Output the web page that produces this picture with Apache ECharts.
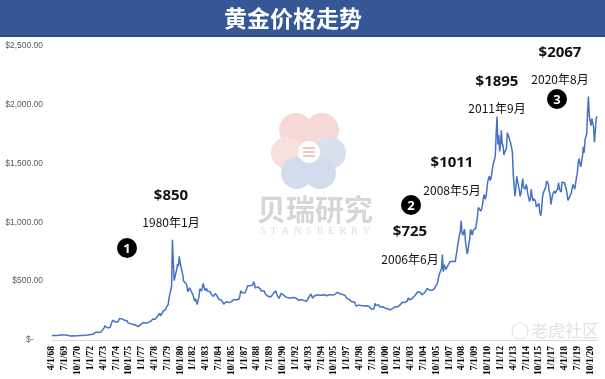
<!DOCTYPE html>
<html><head><meta charset="utf-8">
<script src="https://cdn.jsdelivr.net/npm/echarts@6/dist/echarts.min.js"></script>
<style>html,body{margin:0;padding:0;background:#fff;overflow:hidden}#c{width:605px;height:379px}</style>
</head><body><div id="c"></div>
<script>
// Monthly gold price (USD/oz), April 1968 - June 2021
const startYear = 1968;
const startMonth = 4;
const p1968 = [38, 40, 41, 39, 39, 40, 39, 40, 41];
const p1969 = [42, 42, 43, 43, 43, 41, 42, 41, 40, 40, 36, 35];
const p1970 = [35, 35, 35, 36, 36, 35, 35, 35, 36, 37, 37, 37];
const p1971 = [38, 39, 39, 39, 40, 40, 41, 42, 42, 42, 43, 43];
const p1972 = [46, 48, 48, 49, 54, 60, 65, 67, 65, 65, 63, 64];
const p1973 = [65, 74, 84, 90, 102, 120, 120, 107, 103, 100, 95, 106];
const p1974 = [129, 150, 168, 172, 163, 154, 143, 154, 151, 158, 181, 183];
const p1975 = [176, 180, 178, 170, 167, 164, 165, 163, 144, 143, 142, 139];
const p1976 = [131, 132, 132, 128, 126, 125, 117, 110, 114, 116, 130, 133];
const p1977 = [132, 136, 148, 149, 146, 141, 143, 145, 150, 158, 162, 161];
const p1978 = [173, 178, 184, 175, 177, 183, 188, 206, 212, 227, 206, 207];
const p1979 = [227, 245, 242, 239, 257, 279, 295, 301, 355, 392, 392, 456];
const p1980 = [850, 665, 505, 517, 513, 600, 645, 627, 710, 660, 620, 590];
const p1981 = [557, 500, 499, 496, 480, 460, 409, 410, 443, 437, 413, 410];
const p1982 = [384, 374, 330, 350, 334, 300, 339, 364, 435, 422, 415, 447];
const p1983 = [481, 494, 420, 432, 437, 413, 422, 416, 411, 393, 382, 388];
const p1984 = [370, 386, 394, 381, 377, 378, 347, 348, 341, 340, 341, 320];
const p1985 = [303, 290, 304, 325, 316, 317, 317, 330, 323, 326, 325, 322];
const p1986 = [345, 339, 346, 340, 342, 343, 348, 376, 418, 423, 398, 391];
const p1987 = [408, 401, 409, 438, 460, 450, 450, 460, 460, 465, 467, 494];
const p1988 = [477, 442, 444, 452, 451, 451, 437, 432, 413, 406, 420, 419];
const p1989 = [404, 388, 390, 384, 371, 367, 375, 365, 362, 366, 394, 409];
const p1990 = [410, 417, 393, 374, 369, 352, 362, 395, 389, 381, 381, 378];
const p1991 = [383, 364, 363, 358, 357, 367, 368, 356, 349, 358, 360, 361];
const p1992 = [354, 354, 345, 338, 337, 341, 353, 343, 345, 344, 335, 334];
const p1993 = [329, 329, 330, 342, 367, 372, 392, 378, 355, 364, 373, 383];
const p1994 = [387, 382, 384, 377, 381, 385, 385, 380, 391, 389, 384, 379];
const p1995 = [379, 376, 382, 391, 385, 387, 386, 383, 383, 383, 386, 387];
const p1996 = [400, 405, 396, 393, 392, 385, 383, 387, 383, 381, 378, 369];
const p1997 = [355, 347, 352, 344, 344, 341, 324, 324, 323, 325, 306, 289];
const p1998 = [289, 297, 296, 308, 299, 292, 293, 284, 289, 296, 294, 291];
const p1999 = [287, 287, 286, 282, 277, 262, 254, 257, 265, 311, 293, 283];
const p2000 = [284, 300, 286, 280, 275, 286, 282, 274, 274, 270, 266, 272];
const p2001 = [265, 262, 263, 256, 272, 270, 268, 273, 283, 283, 276, 276];
const p2002 = [282, 296, 294, 302, 314, 321, 314, 310, 319, 317, 319, 333];
const p2003 = [357, 359, 340, 328, 355, 356, 351, 359, 378, 379, 389, 407];
const p2004 = [414, 405, 406, 404, 384, 392, 398, 400, 406, 420, 439, 442];
const p2005 = [424, 423, 434, 429, 422, 430, 424, 438, 456, 470, 476, 510];
const p2006 = [549, 555, 557, 610, 725, 580, 640, 632, 598, 585, 627, 629];
const p2007 = [630, 665, 655, 680, 668, 655, 665, 665, 712, 755, 805, 805];
const p2008 = [890, 925, 1011, 910, 890, 890, 940, 840, 830, 730, 760, 820];
const p2009 = [860, 940, 925, 890, 930, 945, 935, 950, 995, 1045, 1125, 1135];
const p2010 = [1115, 1095, 1115, 1150, 1205, 1235, 1195, 1215, 1270, 1340, 1370, 1390];
const p2011 = [1355, 1375, 1425, 1475, 1510, 1530, 1570, 1760, 1895, 1660, 1740, 1600];
const p2012 = [1655, 1780, 1670, 1650, 1570, 1595, 1595, 1630, 1760, 1745, 1720, 1690];
const p2013 = [1670, 1630, 1590, 1400, 1415, 1220, 1285, 1390, 1350, 1315, 1275, 1220];
const p2014 = [1245, 1300, 1370, 1300, 1285, 1280, 1320, 1295, 1240, 1225, 1175, 1200];
const p2015 = [1280, 1225, 1180, 1200, 1195, 1180, 1130, 1115, 1125, 1160, 1085, 1055];
const p2016 = [1095, 1200, 1245, 1240, 1260, 1300, 1350, 1340, 1325, 1265, 1235, 1150];
const p2017 = [1190, 1235, 1230, 1265, 1245, 1260, 1235, 1285, 1335, 1280, 1280, 1255];
const p2018 = [1340, 1330, 1325, 1335, 1305, 1280, 1240, 1185, 1200, 1215, 1220, 1250];
const p2019 = [1290, 1320, 1300, 1280, 1285, 1380, 1415, 1510, 1540, 1495, 1470, 1480];
const p2020 = [1560, 1640, 1590, 1700, 1715, 1750, 1940, 2067, 1900, 1900, 1820, 1880];
const p2021 = [1865, 1810, 1680, 1770, 1880, 1900];

const priceValues = [].concat(p1968, p1969, p1970, p1971, p1972, p1973, p1974, p1975, p1976, p1977,
  p1978, p1979, p1980, p1981, p1982, p1983, p1984, p1985, p1986, p1987, p1988, p1989, p1990,
  p1991, p1992, p1993, p1994, p1995, p1996, p1997, p1998, p1999, p2000, p2001, p2002, p2003,
  p2004, p2005, p2006, p2007, p2008, p2009, p2010, p2011, p2012, p2013, p2014, p2015, p2016,
  p2017, p2018, p2019, p2020, p2021);

// month category labels M/1/YY
const categories = [];
for (let i = 0; i < priceValues.length; i++) {
  const m0 = startMonth - 1 + i;
  const y = startYear + Math.floor(m0 / 12);
  const m = (m0 % 12) + 1;
  categories.push(m + '/1/' + String(y % 100).padStart(2, '0'));
}

const yTicks = [0, 500, 1000, 1500, 2000, 2500];
const titleText = '黄金价格走势';
const annotPrices = ['$850', '$725', '$1011', '$1895', '$2067'];
const annotDates = ['1980年1月', '2006年6月', '2008年5月', '2011年9月', '2020年8月'];
const annotPos = [[171, 196, 222], [410, 232, 259], [452, 163, 190], [497, 82, 108], [560, 53, 79]];
const badgeNums = ['1', '2', '3'];
const badgePos = [[127, 248], [411, 205], [557, 99]];

function fmtMoney(v) {
  if (v === 0) return '$-    ';
  return '$' + v.toLocaleString('en-US') + '.00';
}

const graphics = [
  { type: 'rect', shape: { x: 0, y: 0, width: 605, height: 36 }, style: { fill: '#365796' }, z: 10 },
  { type: 'rect', shape: { x: 0, y: 35, width: 605, height: 2 }, style: { fill: '#2A4A86' }, z: 10 },
  { type: 'text', x: 293, y: 18, z: 11, style: { text: titleText, fill: '#ffffff', font: 'bold 23px "Noto Sans CJK SC"', textAlign: 'center', textVerticalAlign: 'middle' } },
  // watermark logo
  { type: 'circle', shape: { cx: 296, cy: 130, r: 17 }, style: { fill: '#F6D9D7' }, z: 0 },
  { type: 'circle', shape: { cx: 322, cy: 130, r: 17 }, style: { fill: '#F6D9D7' }, z: 0 },
  { type: 'circle', shape: { cx: 287, cy: 153, r: 16 }, style: { fill: '#F8E0DD' }, z: 0 },
  { type: 'circle', shape: { cx: 330, cy: 153, r: 16 }, style: { fill: '#D8E0EE' }, z: 0 },
  { type: 'circle', shape: { cx: 297, cy: 173, r: 16 }, style: { fill: '#D3DCEC' }, z: 0 },
  { type: 'circle', shape: { cx: 320, cy: 173, r: 16 }, style: { fill: '#D3DCEC' }, z: 0 },
  { type: 'circle', shape: { cx: 309, cy: 152, r: 11 }, style: { fill: '#ffffff' }, z: 0 },
  { type: 'rect', shape: { x: 303, y: 147, width: 12, height: 2 }, style: { fill: '#EAC8C5' }, z: 0 },
  { type: 'rect', shape: { x: 303, y: 151, width: 12, height: 2 }, style: { fill: '#EAC8C5' }, z: 0 },
  { type: 'rect', shape: { x: 303, y: 155, width: 12, height: 2 }, style: { fill: '#EAC8C5' }, z: 0 },
  { type: 'text', x: 315, y: 210, z: 0, style: { text: '贝瑞研究', fill: '#D6D6D6', font: 'bold 29px "Noto Sans CJK SC"', textAlign: 'center', textVerticalAlign: 'middle' } },
  { type: 'text', x: 315, y: 231, z: 0, style: { text: 'S  T  A  N  S  B  E  R  R  Y', fill: '#DCDCDC', font: '10px "Liberation Serif"', textAlign: 'center', textVerticalAlign: 'middle' } },
  { type: 'text', x: 565, y: 331, z: 0, style: { text: '老虎社区', fill: '#E2E2E2', font: '17px "Noto Sans CJK SC"', textAlign: 'center', textVerticalAlign: 'middle' } },
  { type: 'circle', shape: { cx: 520, cy: 331, r: 8 }, style: { fill: 'none', stroke: '#E2E2E2', lineWidth: 1.2 }, z: 0 },
  { type: 'text', x: 565, y: 360, z: 0, style: { text: '@Tiger', fill: '#E4E4E4', font: '11px "Liberation Sans"', textAlign: 'center', textVerticalAlign: 'middle' } }
];
annotPos.forEach((p, i) => {
  graphics.push({ type: 'text', x: p[0], y: p[1], z: 20, style: { text: annotPrices[i], fill: '#111111', font: 'bold 15px "Open Sans"', textAlign: 'center', textVerticalAlign: 'middle' } });
  graphics.push({ type: 'text', x: p[0], y: p[2], z: 20, style: { text: annotDates[i], fill: '#111111', font: '12px "Noto Sans CJK SC"', textAlign: 'center', textVerticalAlign: 'middle' } });
});
badgePos.forEach((p, i) => {
  graphics.push({ type: 'circle', shape: { cx: p[0], cy: p[1], r: 10 }, style: { fill: '#000000' }, z: 20 });
  graphics.push({ type: 'text', x: p[0], y: p[1] + 1, z: 21, style: { text: badgeNums[i], fill: '#ffffff', font: 'bold 13px "Open Sans"', textAlign: 'center', textVerticalAlign: 'middle' } });
});

const chart = echarts.init(document.getElementById('c'), null, { renderer: 'canvas' });
chart.setOption({
  animation: false,
  backgroundColor: '#ffffff',
  grid: { left: 52, right: 8, top: 45.5, bottom: 39 },
  xAxis: {
    type: 'category',
    data: categories,
    boundaryGap: false,
    axisLine: { show: true, lineStyle: { color: '#D9D9D9', width: 1 } },
    axisTick: { show: false },
    axisLabel: { interval: 14, rotate: 90, margin: 6, fontFamily: 'Liberation Serif', fontWeight: 'bold', fontSize: 9.5, color: '#000000' },
    splitLine: { show: false }
  },
  yAxis: {
    type: 'value',
    min: yTicks[0], max: yTicks[yTicks.length - 1], interval: 500,
    axisLine: { show: false },
    axisTick: { show: false },
    splitLine: { show: false },
    axisLabel: { formatter: fmtMoney, fontFamily: 'Liberation Sans', fontSize: 8.5, color: '#595959', margin: 9 }
  },
  series: [{
    type: 'line',
    data: priceValues,
    symbol: 'none',
    lineStyle: { color: '#4472C4', width: 1.5 },
    z: 5
  }],
  graphic: graphics
});
</script></body></html>
